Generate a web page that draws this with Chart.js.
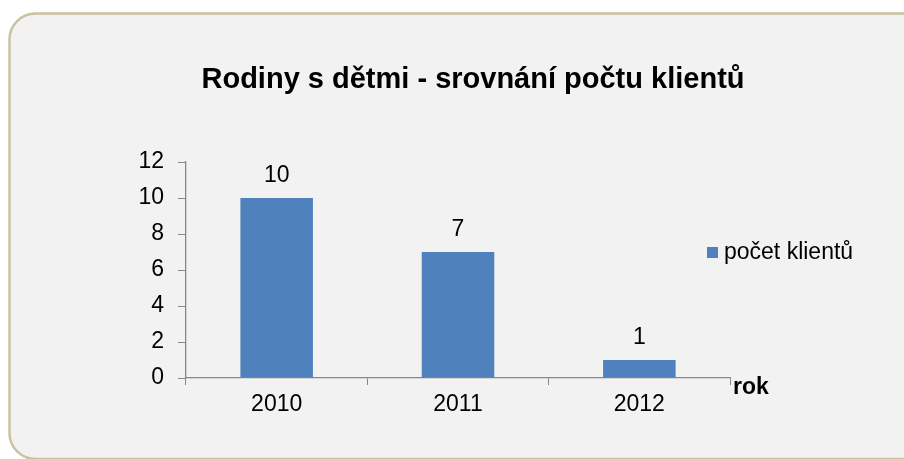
<!DOCTYPE html>
<html>
<head>
<meta charset="utf-8">
<script src="https://cdn.jsdelivr.net/npm/chart.js@4.4.0/dist/chart.umd.min.js"></script>
<style>
  html, body { margin: 0; padding: 0; background: #fff; }
  #wrap { width: 904px; height: 459px; }
</style>
</head>
<body>
<div id="wrap"><canvas id="chart" width="904" height="459"></canvas></div>
<script>
const years = ['2010', '2011', '2012'];
const clients = [10, 7, 1];
const seriesName = 'počet klientů';
const chartTitle = 'Rodiny s dětmi - srovnání počtu klientů';
const axisTitle = 'rok';

const FONT = '"Liberation Sans", Arial, sans-serif';
const BLUE = '#4F81BD';
const AXIS = '#878787';

// rounded card behind the chart, plus title
const cardPlugin = {
    id: 'card',
    beforeDraw(chart) {
        const ctx = chart.ctx;
        ctx.save();
        ctx.fillStyle = '#fff';
        ctx.fillRect(0, 0, chart.width, chart.height);
        ctx.beginPath();
        ctx.roundRect(9.5, 13.5, 920, 445.5, 26);
        ctx.fillStyle = '#F2F2F2';
        ctx.fill();
        ctx.lineWidth = 2.5;
        ctx.strokeStyle = '#C9C29E';
        ctx.stroke();

        ctx.fillStyle = '#000';
        ctx.font = 'bold 29px ' + FONT;
        ctx.textAlign = 'center';
        ctx.textBaseline = 'alphabetic';
        ctx.fillText(chartTitle, 473, 88);
        ctx.restore();
    }
};

// value labels, axis title and legend
const labelPlugin = {
    id: 'labels',
    afterDatasetsDraw(chart) {
        const ctx = chart.ctx;
        const meta = chart.getDatasetMeta(0);
        ctx.save();
        ctx.fillStyle = '#000';
        ctx.font = '23px ' + FONT;
        ctx.textAlign = 'center';
        ctx.textBaseline = 'alphabetic';
        meta.data.forEach((bar, i) => {
            ctx.fillText(String(clients[i]), bar.x, bar.y - 16);
        });

        const x = chart.scales.x;
        ctx.font = 'bold 23px ' + FONT;
        ctx.textAlign = 'left';
        ctx.fillText(axisTitle, x.right + 3, x.top + 16);

        ctx.fillStyle = BLUE;
        ctx.fillRect(707, 247, 11, 11);
        ctx.fillStyle = '#000';
        ctx.font = '23px ' + FONT;
        ctx.textBaseline = 'middle';
        ctx.fillText(chart.data.datasets[0].label, 724, 253);
        ctx.restore();
    }
};

new Chart(document.getElementById('chart'), {
    type: 'bar',
    data: {
        labels: years,
        datasets: [
            {
                label: seriesName,
                data: clients,
                backgroundColor: BLUE,
                barPercentage: 0.4,
                categoryPercentage: 1
            }
        ]
    },
    options: {
        responsive: false,
        animation: false,
        layout: {
            padding: { left: 0, top: 162, right: 174, bottom: 41 }
        },
        plugins: {
            legend: { display: false },
            title: { display: false },
            tooltip: { enabled: false }
        },
        scales: {
            x: {
                afterFit: (s) => { s.height = 40; },
                grid: {
                    offset: true,
                    drawOnChartArea: false,
                    drawTicks: true,
                    tickLength: 7,
                    color: AXIS
                },
                border: { color: AXIS, width: 1.3 },
                ticks: {
                    color: '#000',
                    padding: 6,
                    font: { family: FONT, size: 23 }
                }
            },
            y: {
                min: 0,
                max: 12,
                afterFit: (s) => { s.width = 186; },
                grid: {
                    drawOnChartArea: false,
                    drawTicks: true,
                    tickLength: 8,
                    color: AXIS
                },
                border: { color: AXIS, width: 1.3 },
                ticks: {
                    stepSize: 2,
                    color: '#000',
                    padding: 14,
                    font: { family: FONT, size: 23 }
                }
            }
        }
    },
    plugins: [cardPlugin, labelPlugin]
});
</script>
</body>
</html>
